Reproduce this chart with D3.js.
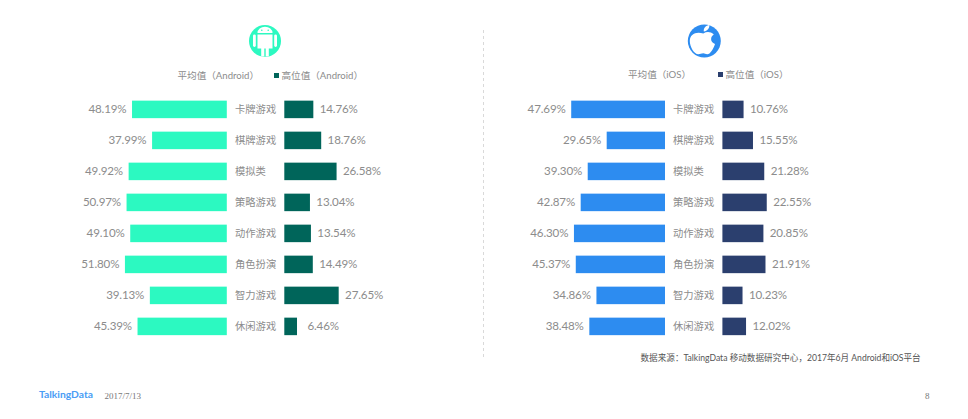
<!DOCTYPE html>
<html><head><meta charset="utf-8">
<script src="https://cdn.jsdelivr.net/npm/d3@7/dist/d3.min.js"></script>
<style>html,body{margin:0;padding:0;background:#fff}svg{display:block}
text{font-family:Lato,"Noto Sans CJK SC",sans-serif}</style></head><body>
<svg id="c" width="968" height="419"></svg>
<script>
const categories=["卡牌游戏","棋牌游戏","模拟类","策略游戏","动作游戏","角色扮演","智力游戏","休闲游戏"];
const androidAvg=[48.19,37.99,49.92,50.97,49.10,51.80,39.13,45.39];
const androidHigh=[14.76,18.76,26.58,13.04,13.54,14.49,27.65,6.46];
const iosAvg=[47.69,29.65,39.30,42.87,46.30,45.37,34.86,38.48];
const iosHigh=[10.76,15.55,21.28,22.55,20.85,21.91,10.23,12.02];
const legendAndroid=["平均值（Android）","高位值（Android）"];
const legendIos=["平均值（iOS）","高位值（iOS）"];
const sourceNote="数据来源：TalkingData 移动数据研究中心，2017年6月 Android和iOS平台";
const brand="TalkingData", dateLabel="2017/7/13", pageNo="8";

const svg=d3.select("#c");
const y=d3.scaleBand().domain(categories).range([93.9,341.9]).paddingInner(0.435).paddingOuter(0.2175);
const px=d3.scaleLinear().domain([0,60]).range([0,118]);
const txt="#8c8c8c";

function panel(o){
  const g=svg.append("g");
  g.selectAll("rect.a").data(categories).join("rect").attr("class","a")
    .attr("x",(d,i)=>o.leftEnd-px(o.avg[i])).attr("y",d=>y(d)).attr("width",(d,i)=>px(o.avg[i])).attr("height",y.bandwidth()).attr("fill",o.c1);
  g.selectAll("rect.h").data(categories).join("rect").attr("class","h")
    .attr("x",o.rightStart).attr("y",d=>y(d)).attr("width",(d,i)=>px(o.high[i])).attr("height",y.bandwidth()).attr("fill",o.c2);
  g.selectAll("text.al").data(categories).join("text").attr("class","al")
    .attr("x",(d,i)=>o.leftEnd-px(o.avg[i])-5.6).attr("y",d=>y(d)+y.bandwidth()/2).attr("dy","0.35em")
    .attr("text-anchor","end").attr("font-size",11.6).attr("letter-spacing",-0.15).attr("fill",txt).text((d,i)=>o.avg[i].toFixed(2)+"%");
  g.selectAll("text.hl").data(categories).join("text").attr("class","hl")
    .attr("x",(d,i)=>o.rightStart+px(o.high[i])+(o.high[i]<10?10.4:6.4)).attr("y",d=>y(d)+y.bandwidth()/2).attr("dy","0.35em")
    .attr("font-size",11.6).attr("letter-spacing",-0.15).attr("fill",txt).text((d,i)=>o.high[i].toFixed(2)+"%");
  g.selectAll("text.cat").data(categories).join("text").attr("class","cat")
    .attr("x",o.catX).attr("y",d=>y(d)+y.bandwidth()/2).attr("dy","0.35em")
    .attr("font-size",10.3).attr("fill",txt).text(d=>d);
  g.append("text").attr("x",o.lg1).attr("y",o.lgY).attr("font-size",9.6).attr("fill",txt).text(o.legend[0]);
  g.append("rect").attr("x",o.sw).attr("y",o.lgY-6).attr("width",5).attr("height",5).attr("fill",o.c2);
  g.append("text").attr("x",o.lg2).attr("y",o.lgY).attr("font-size",9.6).attr("fill",txt).text(o.legend[1]);
}
panel({avg:androidAvg,high:androidHigh,c1:"#2cf9c1",c2:"#00655a",leftEnd:226.8,rightStart:284.3,catX:235,
  legend:legendAndroid,lg1:177.5,lg2:281.5,sw:274,lgY:79});
panel({avg:iosAvg,high:iosHigh,c1:"#2d8cf0",c2:"#2b3f6e",leftEnd:665,rightStart:722.4,catX:673,
  legend:legendIos,lg1:628,lg2:725.5,sw:718,lgY:78});

svg.append("line").attr("x1",483.5).attr("x2",483.5).attr("y1",30).attr("y2",360)
  .attr("stroke","#cfcfcf").attr("stroke-width",0.8).attr("stroke-dasharray","3 3");

// Android icon
const a=svg.append("g").attr("transform","translate(265,41)");
a.append("circle").attr("r",16).attr("fill","#2cf9c1");
a.append("path").attr("fill","#fff").attr("d","M-7.5,-8 A7.5,6.3 0 0 1 7.5,-8 Z M-7.5,-6.6 H7.5 V7.5 H3.8 V15.4 H-3.8 V7.5 H-7.5 Z");
a.append("rect").attr("x",-12).attr("y",-6.6).attr("width",2.8).attr("height",12.5).attr("rx",1.4).attr("fill","#fff");
a.append("rect").attr("x",9.2).attr("y",-6.6).attr("width",2.8).attr("height",12.5).attr("rx",1.4).attr("fill","#fff");
a.append("circle").attr("cx",-3.2).attr("cy",-10.8).attr("r",.8).attr("fill","#2cf9c1");
a.append("circle").attr("cx",3.2).attr("cy",-10.8).attr("r",.8).attr("fill","#2cf9c1");
a.append("rect").attr("x",-.7).attr("y",7.5).attr("width",1.4).attr("height",8).attr("fill","#2cf9c1");

// Apple icon
const b=svg.append("g").attr("transform","translate(704.3,41)");
b.append("circle").attr("r",16.5).attr("fill","#2d8cf0");
b.append("path").attr("fill","#fff").attr("d","M-1,-7.5 C2.5,-9.5 6,-9.5 9.5,-6.5 C6,-4.5 5.5,1 10.7,3 C9,8 6,13.3 3,13.3 C1,13.3 0.5,12.3 -1,12.3 C-3,12.3 -4,13.3 -6,13.3 C-10,13.3 -14.5,6 -14.5,0 C-14.5,-7 -8,-10 -1,-7.5 Z");
b.append("path").attr("fill","#fff").attr("d","M-0.5,-9.5 C-1,-13 1.5,-15.5 5,-16 C5.5,-13 3,-10 -0.5,-9.5 Z");

svg.append("text").attr("x",640.5).attr("y",361).attr("font-size",8.6).attr("fill","#555").text(sourceNote);
svg.append("text").attr("x",39).attr("y",398).attr("font-size",10.3).attr("font-weight",700).attr("fill","#4a9df5").text(brand);
svg.append("text").attr("x",104.5).attr("y",399).attr("font-size",9).attr("fill","#777").style("font-family","'Liberation Serif',serif").text(dateLabel);
svg.append("text").attr("x",925).attr("y",399).attr("font-size",9).attr("fill","#777").style("font-family","'Liberation Serif',serif").text(pageNo);
</script></body></html>
